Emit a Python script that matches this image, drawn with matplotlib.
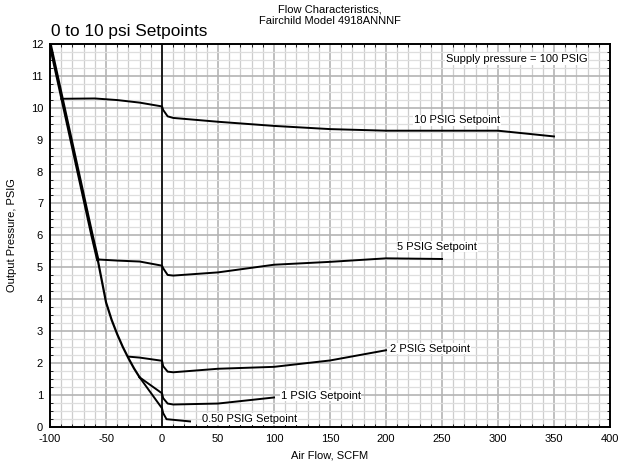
import matplotlib
matplotlib.use("Agg")
import matplotlib.pyplot as plt
from matplotlib.ticker import MultipleLocator

plt.rcParams['font.family'] = ['Liberation Sans', 'DejaVu Sans']
plt.rcParams['axes.unicode_minus'] = False

# envelope (max flow boundary) - shared by all setpoints
env_x = [-100, -90, -80, -70, -62.5, -57.5, -50, -45, -40, -35, -30, -25, -20]
env_y = [12.0, 10.4, 8.8, 7.2, 6.0, 5.25, 3.9, 3.35, 2.9, 2.5, 2.15, 1.83, 1.55]

sp10_x = [-90, -60, -40, -20, 0, 1, 5, 10, 50, 100, 150, 200, 250, 300, 350]
sp10_y = [10.28, 10.29, 10.24, 10.16, 10.04, 9.93, 9.73, 9.68, 9.56, 9.43, 9.33, 9.28, 9.28, 9.28, 9.1]

sp5_x = [-57.5, -55, -40, -20, 0, 1, 5, 10, 50, 100, 150, 200, 250]
sp5_y = [5.25, 5.24, 5.21, 5.18, 5.05, 4.97, 4.76, 4.74, 4.84, 5.08, 5.17, 5.28, 5.26]

sp2_x = [-30, -20, 0, 1, 5, 10, 50, 100, 150, 200]
sp2_y = [2.2, 2.17, 2.07, 1.9, 1.73, 1.71, 1.82, 1.88, 2.08, 2.4]

sp1_x = [-20, 0, 1, 5, 10, 50, 100]
sp1_y = [1.55, 1.05, 0.9, 0.73, 0.7, 0.73, 0.92]

sp05_x = [-20, 0, 1, 4, 25]
sp05_y = [1.55, 0.58, 0.43, 0.24, 0.17]

labels = ['10 PSIG Setpoint', '5 PSIG Setpoint', '2 PSIG Setpoint',
          '1 PSIG Setpoint', '0.50 PSIG Setpoint']
label_pos = [(225, 9.6), (210, 5.65), (204, 2.45), (106, 0.98), (36, 0.25)]

fig = plt.figure(figsize=(6.18, 4.67), dpi=100)
ax = fig.add_axes([0.081, 0.086, 0.906, 0.820])

ax.plot(env_x[:6], env_y[:6], color='black', lw=2.4, zorder=3)
ax.plot(env_x[5:], env_y[5:], color='black', lw=1.6, zorder=3)
for xs, ys in [(sp10_x, sp10_y), (sp5_x, sp5_y), (sp2_x, sp2_y),
               (sp1_x, sp1_y), (sp05_x, sp05_y)]:
    ax.plot(xs, ys, color='black', lw=1.4, zorder=3)

for txt, (lx, ly) in zip(labels, label_pos):
    ax.text(lx, ly, txt, fontsize=8, va='center', ha='left', zorder=4,
            bbox=dict(facecolor='white', edgecolor='none', pad=0.5))

ax.text(380, 11.53, 'Supply pressure = 100 PSIG', fontsize=8, va='center', ha='right',
        zorder=4, bbox=dict(facecolor='white', edgecolor='none', pad=0.5))

ax.axvline(0, color='black', lw=1.2, zorder=2)

ax.set_xlim(-100, 400)
ax.set_ylim(0, 12)
ax.xaxis.set_major_locator(MultipleLocator(50))
ax.xaxis.set_minor_locator(MultipleLocator(10))
ax.yaxis.set_major_locator(MultipleLocator(1))
ax.yaxis.set_minor_locator(MultipleLocator(0.25))
ax.grid(which='major', color='#b4b4b4', lw=1.2)
ax.xaxis.grid(which='minor', color='#cdcdcd', lw=0.9)
ax.yaxis.grid(which='minor', color='#dedede', lw=0.9)
ax.set_axisbelow(True)
ax.tick_params(which='both', direction='in', top=True, right=True, labelsize=8)
ax.tick_params(which='major', length=0)
ax.tick_params(axis='x', which='major', pad=5)
ax.tick_params(axis='y', which='major', pad=5)
ax.tick_params(which='minor', length=2.5, width=0.6)
for s in ax.spines.values():
    s.set_linewidth(1.4)

ax.set_xlabel('Air Flow, SCFM', fontsize=8, labelpad=5)
ax.set_ylabel('Output Pressure, PSIG', fontsize=8, labelpad=10)
fig.text(0.534, 0.99, 'Flow Characteristics,\nFairchild Model 4918ANNNF',
         fontsize=8, ha='center', va='top', linespacing=1.15)
ax.text(-99, 12.15, '0 to 10 psi Setpoints', fontsize=12.4, ha='left', va='bottom')

fig.savefig('out.png', dpi=100)
